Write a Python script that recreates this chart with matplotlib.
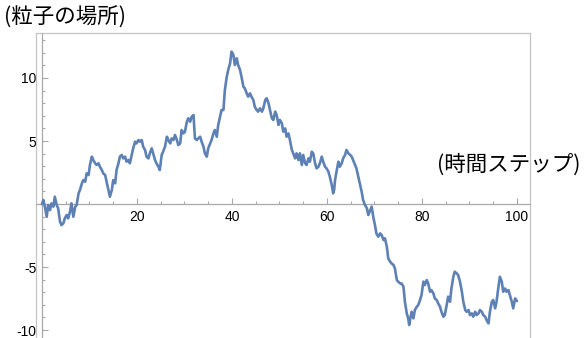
import matplotlib
matplotlib.use("Agg")
import matplotlib.pyplot as plt
from matplotlib.ticker import FixedLocator, MultipleLocator

# time step and particle position along the random walk
steps = [
    0, 0.3, 0.6, 1.0, 1.3, 1.7, 2.0, 2.4, 2.7, 3.1,
    3.4, 3.8, 4.1, 4.5, 4.8, 5.2, 5.5, 5.9, 6.2, 6.6,
    7.0, 7.3, 7.7, 8.0, 8.4, 8.7, 9.1, 9.4, 9.8, 10.1,
    10.5, 10.8, 11.2, 11.5, 11.9, 12.2, 12.6, 12.9, 13.3, 13.6,
    14.0, 14.3, 14.7, 15.0, 15.4, 15.7, 16.1, 16.4, 16.8, 17.1,
    17.5, 17.8, 18.2, 18.5, 18.9, 19.2, 19.6, 19.9, 20.3, 20.6,
    21.0, 21.3, 21.7, 22.0, 22.4, 22.7, 23.1, 23.4, 23.8, 24.1,
    24.5,
    24.8, 25.2, 25.5, 25.9, 26.3, 26.6, 27.0, 27.3, 27.7, 28.0,
    28.4, 28.7, 29.1, 29.4, 29.8, 30.1, 30.5, 30.8, 31.2, 31.5,
    31.9, 32.2, 32.6, 32.9, 33.3, 33.6, 34.0, 34.3, 34.7, 35.0,
    35.4, 35.7, 36.1, 36.4, 36.8, 37.1, 37.5, 37.8, 38.2, 38.5,
    38.9, 39.2, 39.6, 39.9, 40.3, 40.6, 41.0, 41.3, 41.7, 42.0,
    42.4, 42.7, 43.1, 43.4, 43.8, 44.1, 44.5, 44.8, 45.2, 45.5,
    45.9, 46.3, 46.6, 47.0, 47.3, 47.7, 48.0, 48.4, 48.7, 49.1,
    49.4, 49.8,
    50.1, 50.5, 50.8, 51.2, 51.5, 51.9, 52.2, 52.6, 52.9, 53.3,
    53.6, 54.0, 54.3, 54.7, 55.0, 55.4, 55.7, 56.1, 56.4, 56.8,
    57.1, 57.5, 57.8, 58.2, 58.5, 58.9, 59.2, 59.6, 59.9, 60.3,
    60.6, 61.0, 61.3, 61.5, 61.7, 62.0, 62.4, 62.7, 63.1, 63.4,
    63.8, 64.1, 64.5, 64.9, 65.2, 65.5, 65.9, 66.2, 66.6, 66.9,
    67.3, 67.6, 68.0, 68.4, 68.7, 69.1, 69.4,
    69.8, 70.1, 70.4, 70.8, 71.2, 71.5, 71.9, 72.2, 72.6, 72.9,
    73.3, 73.6, 74.0, 74.3, 74.7, 75.0,
    75.4, 75.7, 76.1, 76.4, 76.8, 77.1, 77.3, 77.6, 77.8, 78.2,
    78.5, 78.9, 79.2, 79.6, 79.9, 80.3, 80.6, 81.0, 81.3, 81.7,
    82.0, 82.4, 82.7, 83.1, 83.4, 83.8, 84.1, 84.5, 84.8, 85.2,
    85.5, 85.9, 86.2, 86.6, 86.9, 87.3, 87.6, 88.0, 88.4, 88.7,
    89.1, 89.4, 89.8, 90.1, 90.5, 90.8, 91.2, 91.5, 91.9, 92.2,
    92.6, 92.9, 93.3, 93.6, 94.0, 94.3, 94.7, 95.0, 95.4, 95.7,
    96.1, 96.4, 96.8, 97.1, 97.5, 97.8, 98.2, 98.5, 98.9, 99.2,
    99.6, 100.0,
]
position = [
    0, 0.32, -0.21, -1.01, -0.08, -0.48, 0.05, -0.21, 0.58, -0.08,
    -0.34, -1.40, -1.67, -1.53, -1.14, -0.87, -1.14, -0.61, 0.05, -1.01,
    -0.21, -0.08, 0.85, 1.11, 1.64, 1.90, 1.77, 2.43, 2.30, 3.10,
    3.76, 3.49, 3.23, 3.10, 3.23, 2.96, 2.70, 2.43, 2.30, 1.77,
    1.11, 0.58, 1.11, 1.90, 1.64, 2.70, 3.23, 3.76, 3.89, 3.62,
    3.76, 3.36, 3.49, 3.23, 3.89, 4.42, 4.95, 4.81, 5.08, 4.95,
    5.08, 4.55, 4.29, 3.76, 3.62, 4.02, 4.42, 4.02, 3.49, 3.23,
    2.96,
    2.70, 3.89, 4.15, 4.55, 5.34, 5.08, 4.81, 5.21, 5.08, 5.48,
    5.08, 4.68, 4.81, 5.87, 5.61, 5.74, 6.53, 6.80, 6.53, 6.93,
    7.06, 5.21, 5.08, 5.21, 5.34, 4.95, 4.55, 4.02, 3.76, 4.42,
    4.81, 5.08, 5.61, 5.87, 5.34, 6.27, 6.93, 7.46, 7.46, 9.05,
    10.10, 10.63, 11.16, 12.09, 11.83, 11.03, 11.56, 11.03, 10.63, 10.10,
    9.31, 9.18, 8.78, 8.52, 8.78, 8.52, 8.25, 7.72, 7.46, 7.33,
    7.59, 7.33, 7.59, 8.25, 8.39, 7.99, 7.46, 6.80, 6.67, 7.33,
    7.06, 6.27,
    6.67, 6.40, 5.74, 6.00, 5.34, 5.60, 5.08, 4.29, 4.02, 3.62,
    4.02, 3.49, 4.02, 3.10, 3.89, 3.23, 3.10, 3.62, 3.36, 4.15,
    4.02, 3.23, 2.83, 2.96, 3.23, 3.76, 3.36, 2.96, 2.83, 2.57,
    2.17, 1.51, 0.85, 1.10, 1.90, 2.57, 3.36, 2.96, 3.23, 3.62,
    3.89, 4.29, 4.02, 3.89, 3.76, 3.49, 3.10, 2.83, 2.17, 1.64,
    0.98, 0.32, -0.08, -0.34, -0.87, -0.48, -0.21,
    -1.14, -1.67, -2.33, -2.59, -2.33, -2.46, -2.86, -2.72, -3.39, -4.31,
    -4.58, -4.71, -4.84, -5.10, -6.03, -6.16,
    -6.30, -6.30, -6.56, -7.75, -8.68, -9.07, -9.60, -8.94, -8.55, -9.07,
    -8.41, -8.15, -8.02, -7.62, -7.22, -6.16, -6.43, -6.03, -6.30, -6.96,
    -6.83, -7.09, -7.49, -7.62, -7.88, -8.15, -8.55, -8.94, -8.81, -8.02,
    -7.35, -7.75, -6.70, -5.77, -5.37, -5.50, -5.63, -6.16, -6.96, -7.75,
    -8.41, -8.55, -8.41, -8.81, -8.68, -8.94, -8.55, -8.81, -8.68, -8.41,
    -8.55, -8.81, -8.94, -9.21, -9.47, -8.55, -7.75, -7.62, -8.28, -7.75,
    -6.56, -5.77, -6.16, -6.96, -6.70, -6.96, -6.83, -7.22, -7.75, -8.28,
    -7.49, -7.70,
]

x_major = [20, 40, 60, 80, 100]
y_major = [-10, -5, 5, 10]
y_label = "(粒子の場所)"
x_label = "(時間ステップ)"

plt.rcParams["axes.unicode_minus"] = False
cjk = ["Noto Sans CJK JP", "DejaVu Sans"]

W, H = 587, 338
fig = plt.figure(figsize=(W / 100, H / 100), dpi=100)
left, right, top, bottom = 36, 530, 33, 338
ax = fig.add_axes([left / W, 1 - bottom / H, (right - left) / W, (bottom - top) / H])
ax.set_xlim(-1.26, 102.74)
ax.set_ylim(-10.63, 13.57)

ax.plot(steps, position, color="#5E81B5", lw=1.9, solid_joinstyle="round",
        solid_capstyle="round", zorder=3)

axis_color = "#A8A8A8"
frame_color = "#C4C4C4"
for side in ("left", "bottom"):
    ax.spines[side].set_position(("data", 0))
    ax.spines[side].set_color(axis_color)
    ax.spines[side].set_linewidth(0.9)
for side in ("top", "right"):
    ax.spines[side].set_color(frame_color)
    ax.spines[side].set_linewidth(0.9)
ax.plot([0, 0], [0, 1], transform=ax.transAxes, color=frame_color, lw=0.9,
        clip_on=False)

ax.xaxis.set_major_locator(FixedLocator(x_major))
ax.xaxis.set_minor_locator(MultipleLocator(5))
ax.yaxis.set_major_locator(FixedLocator(y_major))
ax.yaxis.set_minor_locator(MultipleLocator(1))

ax.tick_params(which="both", direction="in", color=axis_color, width=0.8,
               labelsize=10, labelcolor="black")
ax.tick_params(which="major", length=4.5)
ax.tick_params(which="minor", length=2.5)
ax.tick_params(axis="x", which="major", pad=4)
ax.tick_params(axis="y", which="major", pad=4)
for lbl in ax.get_xticklabels() + ax.get_yticklabels():
    lbl.set_fontfamily(["Liberation Sans", "DejaVu Sans"])

fig.text(4 / W, 1 - 18 / H, y_label, fontsize=15.5, family=cjk,
         ha="left", va="center")
fig.text(437 / W, 1 - 165 / H, x_label, fontsize=15.5, family=cjk,
         ha="left", va="center")

fig.savefig("out.png", dpi=100)
